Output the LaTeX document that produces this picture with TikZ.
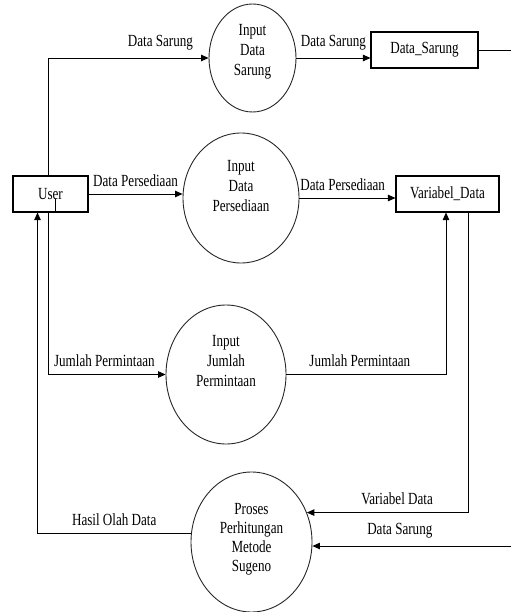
\documentclass[tikz,border=0pt]{standalone}
\usepackage{fontspec}
\setmainfont{Liberation Serif}
\newfontfamily\dfdfont[FakeStretch=0.77]{Liberation Serif}
\usetikzlibrary{arrows.meta,positioning,shapes.geometric}
\tikzset{
  proc/.style={ellipse,draw=black!85,line width=0.9pt,align=center,inner sep=0pt,
    font=\dfdfont\fontsize{17}{20}\selectfont},
  store/.style={rectangle,draw=black,line width=1.1pt,inner sep=2pt,
    font=\dfdfont\fontsize{17}{20}\selectfont},
  arrow/.style={-{Triangle[length=7.5pt,width=6.5pt]},line width=0.9pt},
  flowlabel/.style={font=\dfdfont\fontsize{17}{20}\selectfont,above,yshift=6pt,inner sep=1pt}
}
\begin{document}
\begin{tikzpicture}[x=1pt,y=-1pt]
  \useasboundingbox (0,0) rectangle (511,612);
  \node[store,minimum width=75pt,minimum height=36pt] (user) at (50.5,194) {User};
  \node[proc,minimum width=87pt,minimum height=108pt,text depth=17pt] (insarung) at (252.5,58) {Input\\Data\\Sarung};
  \node[proc,minimum width=116pt,minimum height=130pt,text depth=24pt] (inpersediaan) at (241,198) {Input\\Data\\Persediaan};
  \node[proc,minimum width=120pt,minimum height=139pt,text depth=28pt] (inpermintaan) at (226,374.5) {Input\\Jumlah\\Permintaan};
  \node[proc,minimum width=121pt,minimum height=140pt,text depth=10pt,
    font=\dfdfont\fontsize{17}{19}\selectfont] (sugeno) at (251.5,542) {Proses\\Perhitungan\\Metode\\Sugeno};
  \node[store,minimum width=107pt,minimum height=36pt] (datasarung) at (424.5,50) {Data\_Sarung};
  \node[store,minimum width=103pt,minimum height=36pt] (variabeldata) at (447.5,194) {Variabel\_Data};
  \coordinate (sarungout) at (511,50);
  \coordinate (sarungin) at (511,546);
  \draw[arrow] ([xshift=-2.5pt]user.north) |- node[flowlabel,pos=0.85]{Data Sarung} (insarung.west);
  \draw[arrow] (user.east) -- node[flowlabel]{Data Persediaan} (user.east -| inpersediaan.west);
  \draw[arrow] (insarung.east) -- node[flowlabel]{Data Sarung} (insarung.east -| datasarung.west);
  \draw[line width=0.9pt] (datasarung.east) -- (sarungout);
  \draw[arrow] (inpersediaan.east) -- node[flowlabel,pos=0.45]{Data Persediaan} (inpersediaan.east -| variabeldata.west);
  \draw[arrow] ([xshift=-2.5pt]user.south) |- node[flowlabel,pos=0.74]{Jumlah Permintaan} (inpermintaan.west);
  \draw[arrow] (inpermintaan.east) -| node[flowlabel,pos=0.23]{Jumlah Permintaan} ([xshift=-1.5pt]variabeldata.south);
  \draw[arrow] ([xshift=20.5pt]variabeldata.south) |- node[flowlabel,pos=0.72]{Variabel Data} (sugeno.28);
  \draw[arrow] (sarungin) -- node[flowlabel,pos=0.56]{Data Sarung} (sarungin -| sugeno.east);
  \draw[arrow] (sugeno.172) -| node[flowlabel,pos=0.25]{Hasil Olah Data} ([xshift=-13pt]user.south);
  \draw[line width=0.9pt] ([xshift=4.5pt,yshift=-5pt]user.center) -- ([xshift=4.5pt]user.south);
\end{tikzpicture}
\end{document}
